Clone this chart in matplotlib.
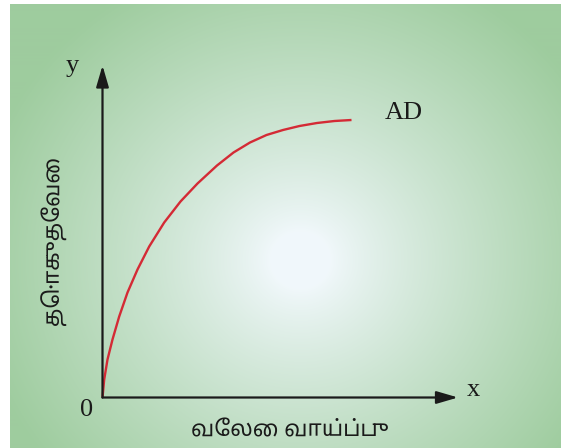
import numpy as np
import matplotlib
matplotlib.use("Agg")
import matplotlib.pyplot as plt
from matplotlib import font_manager
from matplotlib.ft2font import FT2Font, LoadFlags

# ---- data (units are arbitrary, origin at 0) ----
curve_x = [0, 1.7, 5, 10, 16.7, 25, 35, 46.7, 61.7, 78, 95, 114.5,
           131, 147.5, 164, 180.5, 197, 214.5, 232, 249]
curve_y = [0, 18, 38, 58, 81, 105, 128, 151, 175, 196, 214, 232,
           245, 255, 262.5, 267.5, 271.5, 274.5, 276.5, 277.5]
curve_label = "AD"
x_label = "வேலை வாய்ப்பு"
y_label = "தொகுதேவை"
x_axis_name = "x"
y_axis_name = "y"
origin_label = "0"
x_max = 355.5
y_max = 332

# ---- pick a Tamil sans font that really draws the vowel signs ----
preferred = ["Noto Sans Tamil", "Noto Sans Tamil UI", "Hind Madurai", "Mukta Malar",
             "Catamaran", "Anek Tamil", "Arima Madurai", "Pavanam", "Tiro Tamil"]
needed = sorted(set(x_label + y_label) - {" "})
usable = {}
for fe in font_manager.fontManager.ttflist:
    if fe.style != "normal":
        continue
    try:
        f = FT2Font(fe.fname)
        cm = f.get_charmap()
    except Exception:
        continue
    if not all(ord(c) in cm for c in needed):
        continue
    try:
        if f.load_char(0x0BC7, flags=LoadFlags.NO_HINTING).horiAdvance <= 0:
            continue
    except Exception:
        continue
    usable.setdefault(fe.name, fe)
tamil_family = None
for name in preferred:
    if name in usable:
        tamil_family = name
        break
if tamil_family is None and usable:
    tamil_family = sorted(usable)[0]
sans_fams = ([tamil_family] if tamil_family else []) + ["DejaVu Sans"]
serif_fams = ["Liberation Serif", "DejaVu Serif"]

W, H = 561, 448
fig = plt.figure(figsize=(W / 100, H / 100), dpi=100)
fig.patch.set_facecolor("white")

# ---- background radial gradient panel ----
bg = fig.add_axes([10 / W, 0, (W - 10) / W, (H - 4) / H])
bg.set_axis_off()
yy, xx = np.mgrid[4:H, 10:W]
cx, cy = 300, 260
r = np.sqrt((xx - cx) ** 2 + ((yy - cy) / 0.95) ** 2)
t = np.clip((r - 30) / 300.0, 0, 1) ** 0.85
center = np.array([0.945, 0.972, 0.985])
edge = np.array([0.62, 0.80, 0.62])
img = center[None, None, :] + (edge - center)[None, None, :] * t[..., None]
bg.imshow(img, aspect="auto", extent=[0, 1, 0, 1], transform=bg.transAxes)
bg.set_xlim(0, 1)
bg.set_ylim(0, 1)

# ---- main axes ----
ox, oy = 102.5, 397.5
ax = fig.add_axes([ox / W, (H - oy) / H, x_max / W, y_max / H])
ax.patch.set_alpha(0)
ax.set_xlim(0, x_max)
ax.set_ylim(0, y_max)
for s in ax.spines.values():
    s.set_visible(False)
ax.set_xticks([])
ax.set_yticks([])

arrow_kw = dict(arrowstyle="-|>,head_length=1.3,head_width=0.38", color="#1a1a1a",
                lw=1.6, shrinkA=0, shrinkB=0)
ax.annotate("", xy=(1, 0), xytext=(0, 0), xycoords="axes fraction",
            textcoords="axes fraction", arrowprops=arrow_kw, annotation_clip=False)
ax.annotate("", xy=(0, 1), xytext=(0, 0), xycoords="axes fraction",
            textcoords="axes fraction", arrowprops=arrow_kw, annotation_clip=False)

ax.plot(curve_x, curve_y, color="#d42a35", lw=1.7, solid_joinstyle="round",
        solid_capstyle="butt", clip_on=False)

ax.text(curve_x[-1] + 52, curve_y[-1] + 7, curve_label, fontsize=19,
        family=serif_fams, color="#1a1a1a", ha="center", va="center")

# axis names
fig.text(72 / W, 1 - 66 / H, y_axis_name, fontsize=19, family=serif_fams,
         color="#1a1a1a", ha="center", va="center")
fig.text(473 / W, 1 - 390 / H, x_axis_name, fontsize=19, family=serif_fams,
         color="#1a1a1a", ha="center", va="center")
fig.text(87 / W, 1 - 410 / H, origin_label, fontsize=19, family=serif_fams,
         color="#1a1a1a", ha="center", va="center")

# Tamil labels
fig.text(290 / W, 1 - 431 / H, x_label, fontsize=16, family=sans_fams,
         color="#1a1a1a", ha="center", va="center")
fig.text(54 / W, 1 - 240 / H, y_label, fontsize=16, family=sans_fams,
         color="#1a1a1a", ha="center", va="center", rotation=90)

fig.savefig("out.png", dpi=100)
